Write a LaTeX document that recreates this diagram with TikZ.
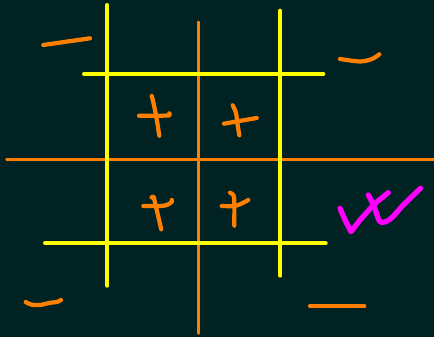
\documentclass[tikz,border=0pt]{standalone}
\definecolor{bg}{HTML}{012223}
\definecolor{org}{HTML}{FF8000}
\definecolor{yel}{HTML}{FFFF00}
\definecolor{mag}{HTML}{FF00FF}
\tikzset{
  yline/.style={draw=yel, line width=1.15pt, line cap=round},
  oline/.style={draw=org, line width=1.1pt, line cap=round},
  stroke/.style={draw=org, line width=1.2pt, line cap=round, line join=round},
  mstroke/.style={draw=mag, line width=1.5pt, line cap=round, line join=round},
}
\begin{document}
\begin{tikzpicture}[x=0.01cm,y=-0.01cm]
\fill[bg] (0,0) rectangle (434,337);
\useasboundingbox (0,0) rectangle (434,337);
% grid lines
\draw[oline] (198.5,22.7) -- (198.5,332.7);
\draw[oline] (7.3,159.5) -- (433,159.5);
\draw[yline] (107.3,5) -- (107.3,285.7);
\draw[yline] (280.3,10.7) -- (280.3,275.7);
\draw[yline] (84,74) -- (323.3,74);
\draw[yline] (45,243.3) -- (325.7,243.3);
% corner marks
\draw[stroke] (43.3,45) -- (90,38.3);
\draw[stroke] plot[smooth] coordinates {(340,59) (360,61.5) (372,59) (379.3,54.3)};
\draw[stroke] plot[smooth] coordinates {(25.7,302) (31,304.5) (40,305) (50,302.8) (57,302) (61,300)};
\draw[stroke] (310,306) -- (364.3,306);
% crosses
\draw[stroke] plot[smooth] coordinates {(151.7,96) (153.5,103) (156.5,118) (159.3,135.7)};
\draw[stroke] plot[smooth] coordinates {(139,115.7) (160,115.7) (169.3,115.3) (169.3,113.3)};
\draw[stroke] plot[smooth] coordinates {(232.7,105.3) (236,113) (237.5,124) (239.3,135.3)};
\draw[stroke] (224,123.7) -- (256.7,118);
\draw[stroke] plot[smooth] coordinates {(151.5,197.5) (153.5,196.5) (154.3,199.5) (157,211) (160,224) (161.3,229.3)};
\draw[stroke] plot[smooth] coordinates {(143.3,206) (160,206) (167,205) (171.7,202) (171.7,200)};
\draw[stroke] plot[smooth] coordinates {(230,192.7) (233.3,195) (234.3,201) (234.3,225.7)};
\draw[stroke] plot[smooth] coordinates {(221.7,206) (235,206) (243.3,202.7) (248.3,200)};
% magenta check
\draw[mstroke] plot coordinates {(340,208.3) (345,220) (351,231.7) (360,220) (375,203.3) (388.3,192.7)};
\draw[mstroke] plot[smooth] coordinates {(368.3,195) (374,206) (380,221.7) (390,219.3) (403.3,205) (420.5,188.3)};
\end{tikzpicture}
\end{document}
